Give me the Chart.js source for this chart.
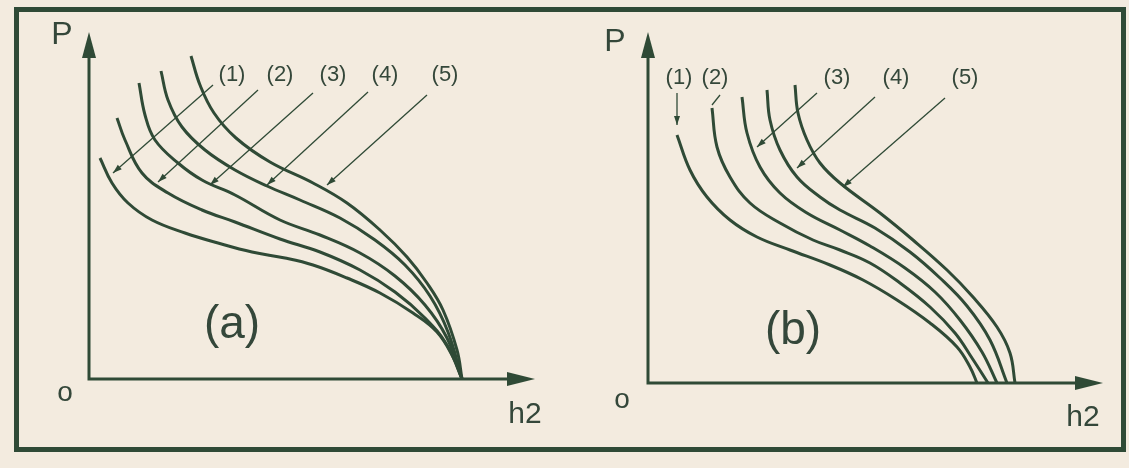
<!DOCTYPE html>
<html>
<head>
<meta charset="utf-8">
<script src="https://cdn.jsdelivr.net/npm/chart.js@4.4.1/dist/chart.umd.min.js"></script>
<style>
html, body { margin: 0; padding: 0; background: #f3ebdf; }
#page { position: relative; width: 1129px; height: 468px; overflow: hidden; background: #f3ebdf; }
#frame { position: absolute; left: 14px; top: 7px; width: 1112px; height: 445px; box-sizing: border-box; border: 5px solid #2f4a36; }
.panel { position: absolute; top: 0; height: 468px; }
#wrapA { left: 0; width: 565px; }
#wrapB { left: 565px; width: 564px; }
</style>
</head>
<body>
<div id="page">
  <div id="frame"></div>
  <div class="panel" id="wrapA"><canvas id="chartA" width="565" height="468"></canvas></div>
  <div class="panel" id="wrapB"><canvas id="chartB" width="564" height="468"></canvas></div>
</div>
<script>
const ink = '#2f4a36';

// --- DATA: [h2, P] in arbitrary units ---
const curveLabels = ['(1)', '(2)', '(3)', '(4)', '(5)'];

// panel (a): all curves meet at the same h2 on the axis
const a1 = [[1.1,22.1],[2.3,19.6],[3.9,17.6],[6.3,15.9],[9.6,14.6],[12.9,13.6],[16.3,12.7],[19.6,12.1],[22.4,11.4],[25.8,10.1],[29.1,8.6],[32.4,6.6],[34.8,4.7],[36.4,2.2],[37.3,0]];
const a2 = [[2.8,26.1],[3.6,23.9],[5.3,20.6],[7.9,18.6],[11.3,16.9],[14.6,15.7],[19.1,14.0],[23.1,12.7],[27.1,10.9],[30.6,8.7],[33.6,6.1],[35.8,3.4],[37.3,0]];
const a3 = [[5.0,29.6],[5.6,26.4],[6.6,23.9],[8.9,21.6],[11.3,19.9],[14.6,18.4],[19.1,15.9],[23.1,14.4],[27.1,12.6],[30.6,10.3],[33.6,7.4],[35.8,4.1],[37.3,0]];
const a4 = [[7.2,30.8],[7.9,27.9],[9.3,25.2],[11.6,22.9],[14.6,20.9],[17.8,19.3],[21.1,17.9],[25.1,16.1],[28.6,13.9],[31.6,11.4],[34.1,8.3],[35.9,4.7],[37.3,0]];
const a5 = [[10.2,32.3],[11.1,29.4],[12.5,26.6],[14.7,24.1],[18.1,21.7],[22.4,19.6],[25.8,17.6],[29.1,14.9],[31.8,12.2],[33.8,9.6],[35.4,6.9],[36.8,2.9],[37.3,0]];

// panel (b): curves end at different h2
const b1 = [[2.9,24.8],[4.2,21.3],[5.9,18.6],[8.2,16.3],[10.9,14.6],[14.2,13.3],[18.2,11.8],[21.5,10.3],[24.9,8.3],[28.2,6.0],[30.9,3.6],[32.2,1.6],[32.9,0]];
const b2 = [[6.4,27.5],[6.9,23.6],[8.2,20.6],[10.2,18.0],[13.2,16.0],[16.5,14.3],[19.2,13.3],[22.2,12.0],[25.2,10.0],[28.2,7.6],[30.7,5.0],[32.4,2.5],[34.0,0]];
const b3 = [[9.4,28.6],[9.9,25.0],[11.2,21.6],[13.2,19.0],[15.9,17.0],[19.2,15.3],[22.2,13.7],[25.7,11.5],[28.7,9.1],[31.2,6.3],[33.4,3.1],[34.9,0]];
const b4 = [[11.9,29.3],[12.2,26.3],[13.2,23.3],[14.9,20.6],[17.2,18.6],[19.2,17.3],[22.7,15.5],[26.2,13.1],[29.2,10.5],[31.9,7.7],[34.2,4.3],[35.9,0]];
const b5 = [[14.7,29.8],[15.0,27.0],[15.9,24.3],[17.2,22.0],[19.2,20.0],[23.2,17.0],[26.5,14.3],[29.9,11.3],[32.5,8.6],[34.9,5.6],[36.2,3.0],[36.7,0]];

// label anchors and leader lines, same units
const labelPosA = [[14.3,30.4],[19.1,30.4],[24.4,30.4],[29.6,30.4],[35.6,30.4]];
const leadersA = [
  { from: [12.4,29.4], to: [2.4,20.6], head: true },
  { from: [16.9,28.9], to: [6.9,19.7], head: true },
  { from: [22.4,28.6], to: [12.1,19.4], head: true },
  { from: [27.9,28.7], to: [17.8,19.4], head: true },
  { from: [33.8,28.4], to: [23.8,19.4], head: true }
];
const labelPosB = [[3.1,30.5],[6.7,30.5],[18.9,30.5],[24.8,30.5],[31.7,30.5]];
const leadersB = [
  { from: [2.9,29.0], to: [2.9,25.8], head: true },
  { from: [7.2,28.8], to: [6.4,27.8], head: false },
  { from: [16.9,29.0], to: [10.9,23.6], head: true },
  { from: [22.7,28.6], to: [14.9,21.5], head: true },
  { from: [29.7,28.5], to: [19.5,19.6], head: true }
];

// --- sketch plugin: axes with arrows, leaders, texts ---
const sketchPlugin = {
  id: 'sketch',
  afterDraw(chart, args, opts) {
    const { ctx, chartArea: a, scales: { x, y } } = chart;
    const px = v => x.getPixelForValue(v);
    const py = v => y.getPixelForValue(v);
    ctx.save();
    ctx.strokeStyle = ink;
    ctx.fillStyle = ink;

    // axes
    ctx.lineWidth = 3;
    ctx.beginPath();
    ctx.moveTo(a.left, a.top + 10);
    ctx.lineTo(a.left, a.bottom);
    ctx.lineTo(a.right - 10, a.bottom);
    ctx.stroke();
    ctx.beginPath();
    ctx.moveTo(a.left, a.top);
    ctx.lineTo(a.left - 7, a.top + 26);
    ctx.lineTo(a.left + 7, a.top + 26);
    ctx.closePath();
    ctx.fill();
    ctx.beginPath();
    ctx.moveTo(a.right, a.bottom);
    ctx.lineTo(a.right - 28, a.bottom - 7);
    ctx.lineTo(a.right - 28, a.bottom + 7);
    ctx.closePath();
    ctx.fill();

    // leader lines
    ctx.lineWidth = 1.3;
    opts.leaders.forEach(l => {
      const x0 = px(l.from[0]), y0 = py(l.from[1]);
      const x1 = px(l.to[0]), y1 = py(l.to[1]);
      ctx.beginPath();
      ctx.moveTo(x0, y0);
      ctx.lineTo(x1, y1);
      ctx.stroke();
      if (l.head) {
        const ang = Math.atan2(y1 - y0, x1 - x0);
        ctx.beginPath();
        ctx.moveTo(x1, y1);
        ctx.lineTo(x1 - 9 * Math.cos(ang) + 3 * Math.sin(ang), y1 - 9 * Math.sin(ang) - 3 * Math.cos(ang));
        ctx.lineTo(x1 - 9 * Math.cos(ang) - 3 * Math.sin(ang), y1 - 9 * Math.sin(ang) + 3 * Math.cos(ang));
        ctx.closePath();
        ctx.fill();
      }
    });

    // texts
    ctx.textAlign = 'center';
    ctx.textBaseline = 'middle';
    ctx.fillStyle = '#34473a';
    ctx.font = '22px "Liberation Sans", Arial, sans-serif';
    opts.labelPos.forEach((p, i) => ctx.fillText(curveLabels[i], px(p[0]), py(p[1])));
    opts.texts.forEach(t => {
      ctx.font = t.size + 'px "Liberation Sans", Arial, sans-serif';
      ctx.fillText(t.text, px(t.at[0]), py(t.at[1]));
    });
    ctx.restore();
  }
};

function makeDatasets(curves) {
  return curves.map((c, i) => ({
    label: curveLabels[i],
    data: c.map(p => ({ x: p[0], y: p[1] })),
    showLine: true,
    borderColor: ink,
    borderWidth: 3,
    pointRadius: 0,
    tension: 0.4,
    fill: false
  }));
}

function makeChart(id, curves, xMax, yMax, padding, leaders, labelPos, texts) {
  return new Chart(document.getElementById(id), {
    type: 'scatter',
    data: { datasets: makeDatasets(curves) },
    options: {
      responsive: false,
      animation: false,
      layout: { padding: padding },
      clip: false,
      scales: {
        x: { type: 'linear', min: 0, max: xMax, display: false },
        y: { type: 'linear', min: 0, max: yMax, display: false }
      },
      plugins: {
        legend: { display: false },
        tooltip: { enabled: false },
        sketch: { leaders: leaders, labelPos: labelPos, texts: texts }
      }
    },
    plugins: [sketchPlugin]
  });
}

makeChart('chartA', [a1, a2, a3, a4, a5], 44.6, 34.7,
  { left: 89, right: 30, top: 32, bottom: 89 },
  leadersA, labelPosA,
  [
    { text: 'P', at: [-2.7, 34.4], size: 32 },
    { text: 'o', at: [-2.4, -1.4], size: 28 },
    { text: 'h2', at: [43.6, -3.6], size: 30 },
    { text: '(a)', at: [14.3, 5.4], size: 46 }
  ]);

makeChart('chartB', [b1, b2, b3, b4, b5], 45.5, 35.1,
  { left: 83, right: 26, top: 32, bottom: 85 },
  leadersB, labelPosB,
  [
    { text: 'P', at: [-3.3, 34.1], size: 32 },
    { text: 'o', at: [-2.6, -1.7], size: 28 },
    { text: 'h2', at: [43.5, -3.5], size: 30 },
    { text: '(b)', at: [14.5, 5.2], size: 46 }
  ]);
</script>
</body>
</html>
